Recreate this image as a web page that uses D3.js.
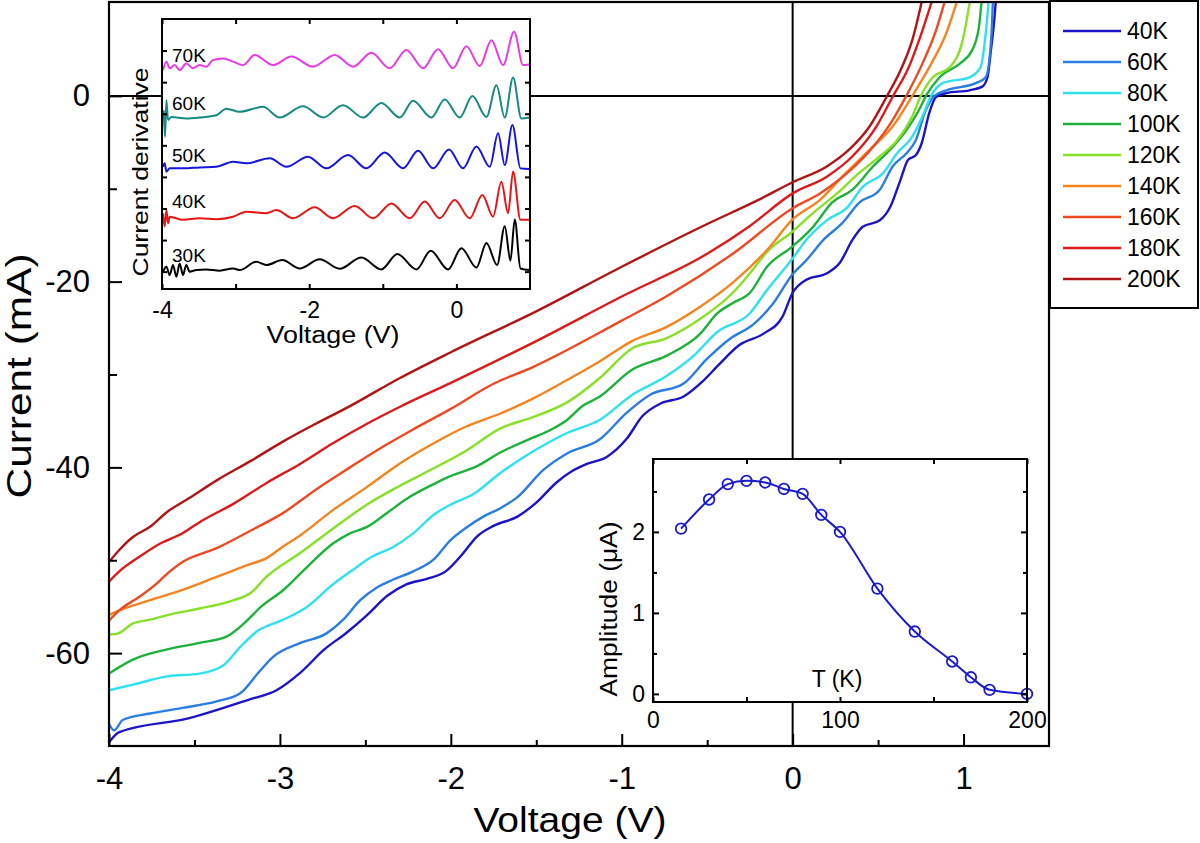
<!DOCTYPE html>
<html><head><meta charset="utf-8">
<script src="https://cdn.jsdelivr.net/npm/d3@7"></script>
<style>
body{margin:0;background:#fff}
svg{display:block}
text{font-family:"Liberation Sans",Arial,Helvetica,sans-serif;fill:#000}
</style>
</head><body>
<svg id="chart" width="1200" height="843"></svg>
<script>
// ---------------- DATA ----------------
const seriesNames = ["40K","60K","80K","100K","120K","140K","160K","180K","200K"];
const seriesColors = ["#1c14c8","#2a7de1","#2ee0f0","#1db33a","#88e028","#f5841f","#ee4a22","#dd1a1a","#b01515"];

// I-V curves: [Voltage (V), Current (mA)]
const iv40K = [[-4.0,-69.6],[-3.94,-68.5],[-3.53,-67.0],[-3.18,-65.0],[-3.02,-64.0],[-2.88,-62.1],[-2.74,-59.6],[-2.61,-57.8],[-2.49,-55.9],[-2.37,-53.8],[-2.26,-52.6],[-2.14,-52.0],[-2.03,-51.2],[-1.93,-49.3],[-1.85,-47.5],[-1.75,-46.3],[-1.61,-45.3],[-1.50,-43.8],[-1.38,-41.6],[-1.29,-40.4],[-1.20,-39.6],[-1.09,-38.9],[-0.97,-36.9],[-0.88,-34.5],[-0.77,-33.1],[-0.64,-32.4],[-0.53,-30.8],[-0.43,-28.9],[-0.31,-26.8],[-0.17,-25.6],[-0.06,-23.8],[0.0,-21.2],[0.08,-19.8],[0.20,-19.1],[0.275,-18.0],[0.35,-15.5],[0.41,-14.1],[0.51,-13.4],[0.57,-12.0],[0.63,-9.1],[0.675,-6.9],[0.72,-6.4],[0.755,-5.1],[0.80,-1.8],[0.84,-0.1],[0.90,0.3],[1.035,0.6],[1.11,1.0],[1.14,2.0],[1.16,4.9],[1.18,8.2],[1.19,10.5]];
const iv60K = [[-4.0,-67.6],[-3.97,-68.3],[-3.92,-67.2],[-3.76,-66.5],[-3.57,-65.9],[-3.37,-65.2],[-3.23,-64.3],[-3.13,-62.2],[-3.04,-60.4],[-2.88,-58.9],[-2.73,-57.9],[-2.63,-56.4],[-2.53,-54.3],[-2.43,-52.9],[-2.34,-52.1],[-2.22,-51.2],[-2.10,-49.9],[-2.0,-47.8],[-1.91,-46.5],[-1.81,-45.3],[-1.71,-44.4],[-1.61,-43.2],[-1.46,-40.3],[-1.32,-38.5],[-1.13,-37.0],[-0.97,-34.1],[-0.836,-32.2],[-0.64,-31.0],[-0.50,-28.3],[-0.37,-26.2],[-0.23,-24.6],[-0.12,-22.5],[0.0,-19.2],[0.08,-17.7],[0.18,-15.5],[0.29,-13.7],[0.39,-11.5],[0.51,-10.1],[0.585,-7.6],[0.665,-6.2],[0.72,-4.8],[0.78,-1.5],[0.83,0.0],[0.90,0.6],[1.075,1.4],[1.13,2.0],[1.164,6.8],[1.172,10.5]];
const iv80K = [[-4.0,-64.0],[-3.86,-63.4],[-3.66,-62.5],[-3.47,-62.2],[-3.33,-61.3],[-3.23,-59.3],[-3.13,-57.6],[-2.98,-56.4],[-2.84,-55.0],[-2.69,-52.6],[-2.57,-51.0],[-2.46,-49.6],[-2.34,-48.6],[-2.22,-47.1],[-2.10,-45.1],[-1.99,-43.9],[-1.87,-42.9],[-1.71,-40.6],[-1.52,-38.3],[-1.32,-36.3],[-1.13,-34.9],[-0.94,-32.2],[-0.74,-30.2],[-0.58,-28.0],[-0.44,-25.4],[-0.25,-23.4],[-0.15,-20.9],[0.0,-17.5],[0.08,-15.5],[0.20,-13.4],[0.32,-12.0],[0.41,-9.8],[0.53,-8.3],[0.61,-6.2],[0.70,-4.4],[0.76,-2.2],[0.81,0.0],[0.88,1.4],[1.035,2.0],[1.10,3.1],[1.13,6.8],[1.148,10.5]];
const iv100K = [[-4.0,-62.2],[-3.86,-60.7],[-3.66,-59.6],[-3.47,-58.9],[-3.31,-58.2],[-3.21,-56.8],[-3.11,-55.0],[-2.98,-53.2],[-2.84,-50.7],[-2.69,-48.2],[-2.59,-47.1],[-2.49,-46.4],[-2.38,-45.0],[-2.26,-43.4],[-2.10,-41.8],[-2.01,-41.0],[-1.85,-39.9],[-1.71,-38.4],[-1.52,-36.8],[-1.42,-36.0],[-1.32,-34.9],[-1.23,-33.4],[-1.13,-32.4],[-0.94,-29.5],[-0.74,-28.0],[-0.54,-25.6],[-0.44,-23.4],[-0.35,-22.3],[-0.25,-21.2],[-0.15,-18.4],[0.0,-16.2],[0.12,-14.1],[0.23,-11.5],[0.35,-10.1],[0.47,-7.6],[0.57,-5.8],[0.665,-3.7],[0.74,-1.5],[0.78,0.0],[0.86,2.0],[0.98,3.5],[1.05,4.9],[1.09,7.4],[1.107,10.5]];
const iv120K = [[-4.0,-58.0],[-3.95,-57.9],[-3.86,-56.8],[-3.76,-56.4],[-3.66,-55.9],[-3.47,-55.2],[-3.27,-54.3],[-3.17,-53.5],[-3.08,-51.8],[-2.88,-49.2],[-2.69,-46.6],[-2.49,-44.0],[-2.30,-42.0],[-2.10,-40.1],[-1.91,-38.2],[-1.71,-35.8],[-1.52,-34.6],[-1.32,-33.0],[-1.13,-30.4],[-0.94,-27.2],[-0.74,-26.1],[-0.54,-24.0],[-0.35,-21.2],[-0.25,-19.1],[-0.15,-16.8],[0.0,-14.6],[0.12,-12.6],[0.26,-10.5],[0.39,-8.3],[0.51,-6.5],[0.61,-4.8],[0.70,-2.2],[0.75,0.0],[0.82,2.0],[0.92,3.1],[0.995,6.0],[1.04,10.5]];
const iv140K = [[-4.0,-55.9],[-3.94,-55.4],[-3.76,-54.3],[-3.57,-53.2],[-3.37,-51.8],[-3.17,-50.4],[-3.08,-49.8],[-2.98,-48.5],[-2.88,-47.3],[-2.69,-44.6],[-2.49,-42.1],[-2.30,-39.6],[-2.10,-37.4],[-1.91,-35.6],[-1.71,-34.2],[-1.52,-32.6],[-1.32,-30.6],[-1.13,-28.6],[-0.94,-26.4],[-0.74,-24.9],[-0.55,-22.8],[-0.35,-20.1],[-0.15,-16.6],[0.0,-13.3],[0.16,-11.2],[0.29,-8.7],[0.45,-5.8],[0.585,-3.3],[0.70,0.0],[0.80,3.1],[0.90,6.8],[0.967,10.5]];
const iv160K = [[-4.0,-56.5],[-3.94,-55.4],[-3.82,-53.9],[-3.72,-52.5],[-3.68,-51.8],[-3.57,-50.2],[-3.37,-48.7],[-3.17,-46.8],[-2.98,-44.9],[-2.79,-42.4],[-2.59,-40.0],[-2.40,-37.8],[-2.21,-35.8],[-2.0,-33.7],[-1.75,-31.0],[-1.52,-29.2],[-1.0,-24.2],[-0.74,-21.6],[-0.35,-17.0],[0.0,-12.1],[0.16,-10.5],[0.32,-8.3],[0.47,-5.5],[0.585,-2.6],[0.665,0.0],[0.76,3.5],[0.84,7.1],[0.895,10.5]];
const iv180K = [[-4.0,-52.3],[-3.94,-51.2],[-3.82,-49.6],[-3.70,-48.2],[-3.57,-47.1],[-3.47,-45.9],[-3.27,-43.9],[-3.08,-41.7],[-2.88,-39.6],[-2.69,-37.4],[-2.49,-35.3],[-2.30,-33.5],[-2.0,-30.9],[-1.5,-26.4],[-1.0,-21.6],[-0.5,-17.0],[-0.25,-14.0],[0.0,-10.5],[0.2,-8.7],[0.35,-6.5],[0.49,-3.3],[0.585,-0.1],[0.68,3.1],[0.74,6.0],[0.82,10.5]];
const iv200K = [[-4.0,-50.2],[-3.94,-48.9],[-3.86,-47.5],[-3.76,-46.4],[-3.66,-44.8],[-3.53,-43.3],[-3.37,-41.4],[-3.17,-39.3],[-2.98,-37.2],[-2.79,-35.3],[-2.59,-33.4],[-2.30,-30.4],[-2.0,-27.6],[-1.5,-23.2],[-1.0,-18.4],[-0.5,-13.8],[-0.2,-11.2],[0.0,-9.3],[0.2,-7.6],[0.33,-5.8],[0.45,-3.3],[0.55,-0.1],[0.64,3.1],[0.70,6.0],[0.76,10.5]];
const ivCurves = [iv40K, iv60K, iv80K, iv100K, iv120K, iv140K, iv160K, iv180K, iv200K];

// Inset 1: current derivative (a.u.), [Voltage, height above own baseline]
const derivNames = ["30K","40K","50K","60K","70K"];
const derivColors = ["#000000","#e81515","#1515e0","#178a84","#e83ae8"];
const derivOffsets = [0.05, 1.69, 3.27, 4.88, 6.51];
const d30K = [[-3.986,-0.05],[-3.94,0.105],[-3.896,-0.16],[-3.85,0.16],[-3.805,-0.21],[-3.76,0.21],[-3.715,-0.16],[-3.67,0.16],[-3.624,-0.05],[-3.533,0],[-3.40,0.02],[-3.216,-0.02],[-3.035,0.05],[-2.945,0],[-2.718,0.26],[-2.582,0.16],[-2.365,0.32],[-2.129,0.05],[-1.857,0.34],[-1.586,0.04],[-1.291,0.40],[-1.019,0.02],[-0.802,0.51],[-0.544,0.02],[-0.349,0.61],[-0.113,0.02],[0.068,0.69],[0.272,0.08],[0.408,0.86],[0.553,0.16],[0.657,1.39],[0.734,0.30],[0.793,1.60],[0.87,0.05],[0.997,0.0]];
const d40K = [[-3.986,0.16],[-3.964,-0.26],[-3.94,0.26],[-3.918,-0.16],[-3.896,0.05],[-3.715,-0.05],[-3.488,0],[-3.262,-0.03],[-3.035,0.05],[-2.854,0.21],[-2.582,0.16],[-2.446,0.26],[-2.22,0],[-1.925,0.35],[-1.676,0],[-1.382,0.39],[-1.132,0],[-0.883,0.47],[-0.634,0],[-0.43,0.53],[-0.227,0],[-0.023,0.58],[0.181,0],[0.353,0.74],[0.498,0.05],[0.611,1.16],[0.702,0.16],[0.77,1.48],[0.87,-0.05],[0.997,-0.05]];
const d50K = [[-3.986,0.05],[-3.964,0.16],[-3.94,-0.105],[-3.896,0],[-3.715,0],[-3.488,0.03],[-3.262,0.05],[-3.035,0.21],[-2.854,0.16],[-2.537,0.32],[-2.31,0.05],[-2.016,0.37],[-1.767,0],[-1.472,0.42],[-1.223,0],[-0.974,0.50],[-0.725,0],[-0.521,0.56],[-0.317,0],[-0.1,0.60],[0.09,0],[0.272,0.69],[0.453,0.05],[0.566,1.11],[0.657,0.105],[0.761,1.37],[0.87,0],[0.997,-0.02]];
const d60K = [[-3.977,0.23],[-3.959,-0.61],[-3.94,0.55],[-3.918,-0.08],[-3.873,0.02],[-3.67,-0.03],[-3.488,0],[-3.262,0.07],[-3.126,0.28],[-2.945,0.18],[-2.627,0.34],[-2.401,0],[-2.084,0.36],[-1.812,0],[-1.54,0.39],[-1.268,0],[-1.019,0.46],[-0.77,0],[-0.589,0.53],[-0.34,0],[-0.159,0.57],[0.045,0],[0.217,0.68],[0.408,0.02],[0.544,1.02],[0.657,0],[0.77,1.27],[0.883,-0.03],[0.997,0]];
const d70K = [[-3.986,-0.13],[-3.94,0.14],[-3.896,-0.07],[-3.828,0.03],[-3.76,-0.13],[-3.67,0.08],[-3.579,-0.07],[-3.488,0.03],[-3.398,-0.02],[-3.307,0.19],[-3.171,0.24],[-3.035,0.14],[-2.899,0.03],[-2.741,0.35],[-2.492,0.03],[-2.242,0.30],[-1.948,-0.02],[-1.653,0.35],[-1.404,-0.02],[-1.155,0.42],[-0.906,-0.07],[-0.68,0.51],[-0.453,-0.07],[-0.249,0.53],[-0.045,-0.07],[0.136,0.63],[0.317,0.0],[0.476,0.82],[0.634,0.03],[0.784,1.09],[0.906,0.03],[0.997,0.06]];
const derivCurves = [d30K, d40K, d50K, d60K, d70K];

// Inset 2: amplitude vs temperature
const ampT = [15, 30, 40, 50, 60, 70, 80, 90, 100, 120, 140, 160, 170, 180, 200];
const ampVal = [2.04, 2.40, 2.59, 2.63, 2.61, 2.53, 2.47, 2.21, 2.00, 1.30, 0.77, 0.40, 0.205, 0.05, 0.0];

// Tick values
const mainXMajor = [-4, -3, -2, -1, 0, 1];
const mainXMinor = [-3.5, -2.5, -1.5, -0.5, 0.5];
const mainYMajor = [-60, -40, -20, 0];
const mainYMinor = [-50, -30, -10];
const in1XTicks = [-4, -3, -2, -1, 0];
const in1XLabels = [-4, -2, 0];
const in1YTicks = [0, 1, 2, 3, 4, 5, 6, 7];
const in2XMajor = [0, 100, 200];
const in2XMinor = [50, 150];
const in2YMajor = [0, 1, 2];
const in2YMinor = [0.5, 1.5, 2.5];

// ---------------- DRAW ----------------
const svg = d3.select("#chart");
svg.append("rect").attr("width",1200).attr("height",843).attr("fill","#fff");
const FONT = '"Liberation Sans",Arial,Helvetica,sans-serif';

const x = d3.scaleLinear().domain([-4, 1.5]).range([109, 1049]);
const y = d3.scaleLinear().domain([-70, 10]).range([746, 3]);

svg.append("clipPath").attr("id","mainClip").append("rect")
  .attr("x",109).attr("y",3).attr("width",940).attr("height",743);

svg.append("line").attr("x1",x(0)).attr("x2",x(0)).attr("y1",y(10)).attr("y2",y(-70))
  .attr("stroke","#000").attr("stroke-width",2);
svg.append("line").attr("x1",x(-4)).attr("x2",x(1.5)).attr("y1",y(0)).attr("y2",y(0))
  .attr("stroke","#000").attr("stroke-width",2);

const ivLine = d3.line().x(d=>x(d[0])).y(d=>y(d[1])).curve(d3.curveMonotoneX);
const gCurves = svg.append("g").attr("clip-path","url(#mainClip)");
ivCurves.forEach((c,i)=>{
  gCurves.append("path").attr("d",ivLine(c)).attr("fill","none")
    .attr("stroke",seriesColors[i]).attr("stroke-width",2.4).attr("stroke-linejoin","round");
});

function styleAxis(g){
  g.select(".domain").remove();
  g.selectAll(".tick line").attr("stroke","#000").attr("stroke-width",2);
}
svg.append("g").attr("transform",`translate(0,${y(-70)})`)
  .call(d3.axisBottom(x).tickValues(mainXMajor).tickSize(-12).tickPadding(21).tickFormat(d=>String(d)))
  .call(styleAxis)
  .call(g=>g.selectAll("text").attr("font-size",31).attr("font-family",FONT));
svg.append("g").attr("transform",`translate(0,${y(-70)})`)
  .call(d3.axisBottom(x).tickValues(mainXMinor).tickSize(-6).tickFormat(""))
  .call(styleAxis);
svg.append("g").attr("transform",`translate(${x(-4)},0)`)
  .call(d3.axisLeft(y).tickValues(mainYMajor).tickSize(-13).tickPadding(19).tickFormat(d=>String(d)))
  .call(styleAxis)
  .call(g=>g.selectAll("text").attr("font-size",31).attr("font-family",FONT));
svg.append("g").attr("transform",`translate(${x(-4)},0)`)
  .call(d3.axisLeft(y).tickValues(mainYMinor).tickSize(-8).tickFormat(""))
  .call(styleAxis);

svg.append("rect").attr("x",109).attr("y",2).attr("width",940).attr("height",744)
  .attr("fill","none").attr("stroke","#000").attr("stroke-width",2.2);

svg.append("text").attr("x",570).attr("y",832).attr("text-anchor","middle")
  .attr("font-size",35).attr("textLength",193).attr("lengthAdjust","spacingAndGlyphs").text("Voltage (V)");
svg.append("text").attr("transform","translate(31,376) rotate(-90)").attr("text-anchor","middle")
  .attr("font-size",35).attr("textLength",245).attr("lengthAdjust","spacingAndGlyphs").text("Current (mA)");

// ---------------- Legend ----------------
const leg = svg.append("g");
leg.append("rect").attr("x",1050).attr("y",1).attr("width",148).attr("height",307)
  .attr("fill","#fff").attr("stroke","#000").attr("stroke-width",2);
seriesNames.forEach((n,i)=>{
  const yy = 31 + i*31;
  leg.append("line").attr("x1",1063).attr("x2",1121).attr("y1",yy).attr("y2",yy)
    .attr("stroke",seriesColors[i]).attr("stroke-width",2.4);
  leg.append("text").attr("x",1127).attr("y",yy+8).attr("font-size",23).text(n);
});

// ---------------- Inset 1 ----------------
const x1 = d3.scaleLinear().domain([-4, 1]).range([162, 530]);
const y1 = d3.scaleLinear().domain([-0.55, 8.0]).range([289, 19]);
svg.append("rect").attr("x",162).attr("y",19).attr("width",368).attr("height",270)
  .attr("fill","#fff");
svg.append("clipPath").attr("id","in1Clip").append("rect")
  .attr("x",162).attr("y",19).attr("width",368).attr("height",270);
const dLine = (off)=>d3.line().x(d=>x1(d[0])).y(d=>y1(d[1]+off)).curve(d3.curveMonotoneX);
const g1 = svg.append("g").attr("clip-path","url(#in1Clip)");
derivCurves.forEach((c,i)=>{
  g1.append("path").attr("d",dLine(derivOffsets[i])(c)).attr("fill","none")
    .attr("stroke",derivColors[i]).attr("stroke-width",2).attr("stroke-linejoin","round");
});
const derivLabelY = [262, 208, 162, 110, 62];
derivNames.forEach((n,i)=>{
  svg.append("text").attr("x",172).attr("y",derivLabelY[i]).attr("font-size",19).text(n);
});
svg.append("g").attr("transform","translate(0,289)")
  .call(d3.axisBottom(x1).tickValues(in1XTicks).tickSize(-5).tickPadding(13)
    .tickFormat(d=>in1XLabels.includes(d)?String(d):""))
  .call(styleAxis)
  .call(g=>g.selectAll("text").attr("font-size",23).attr("font-family",FONT));
svg.append("g").attr("transform","translate(0,19)")
  .call(d3.axisTop(x1).tickValues(in1XTicks).tickSize(-5).tickFormat(""))
  .call(styleAxis);
svg.append("g").attr("transform","translate(162,0)")
  .call(d3.axisLeft(y1).tickValues(in1YTicks).tickSize(-5).tickFormat(""))
  .call(styleAxis);
svg.append("g").attr("transform","translate(530,0)")
  .call(d3.axisRight(y1).tickValues(in1YTicks).tickSize(-5).tickFormat(""))
  .call(styleAxis);
svg.append("rect").attr("x",162).attr("y",19).attr("width",368).attr("height",270)
  .attr("fill","none").attr("stroke","#000").attr("stroke-width",2);
svg.append("text").attr("x",333).attr("y",343).attr("text-anchor","middle")
  .attr("font-size",23).attr("textLength",133).attr("lengthAdjust","spacingAndGlyphs").text("Voltage (V)");
svg.append("text").attr("transform","translate(148,172) rotate(-90)").attr("text-anchor","middle")
  .attr("font-size",22).attr("textLength",209).attr("lengthAdjust","spacingAndGlyphs").text("Current derivative");

// ---------------- Inset 2 ----------------
const x2 = d3.scaleLinear().domain([0, 200]).range([653, 1027]);
const y2 = d3.scaleLinear().domain([-0.1, 2.9]).range([702, 459]);
svg.append("rect").attr("x",653).attr("y",459).attr("width",374).attr("height",243)
  .attr("fill","#fff");
const ampData = ampT.map((t,i)=>[t, ampVal[i]]);
svg.append("path").attr("d", d3.line().x(d=>x2(d[0])).y(d=>y2(d[1])).curve(d3.curveMonotoneX)(ampData))
  .attr("fill","none").attr("stroke","#1a1ad2").attr("stroke-width",2);
svg.append("g").selectAll("circle").data(ampData).join("circle")
  .attr("cx",d=>x2(d[0])).attr("cy",d=>y2(d[1])).attr("r",5.3)
  .attr("fill","none").attr("stroke","#1a1ad2").attr("stroke-width",1.8);
svg.append("g").attr("transform","translate(0,702)")
  .call(d3.axisBottom(x2).tickValues(in2XMajor).tickSize(-5).tickPadding(10).tickFormat(d=>String(d)))
  .call(styleAxis)
  .call(g=>g.selectAll("text").attr("font-size",23).attr("font-family",FONT));
svg.append("g").attr("transform","translate(0,702)")
  .call(d3.axisBottom(x2).tickValues(in2XMinor).tickSize(-5).tickFormat("")).call(styleAxis);
svg.append("g").attr("transform","translate(0,459)")
  .call(d3.axisTop(x2).tickValues(in2XMajor.concat(in2XMinor)).tickSize(-5).tickFormat("")).call(styleAxis);
svg.append("g").attr("transform","translate(653,0)")
  .call(d3.axisLeft(y2).tickValues(in2YMajor).tickSize(-6).tickPadding(8).tickFormat(d=>String(d)))
  .call(styleAxis)
  .call(g=>g.selectAll("text").attr("font-size",23).attr("font-family",FONT));
svg.append("g").attr("transform","translate(653,0)")
  .call(d3.axisLeft(y2).tickValues(in2YMinor).tickSize(-4).tickFormat("")).call(styleAxis);
svg.append("g").attr("transform","translate(1027,0)")
  .call(d3.axisRight(y2).tickValues(in2YMajor).tickSize(-6).tickFormat("")).call(styleAxis);
svg.append("g").attr("transform","translate(1027,0)")
  .call(d3.axisRight(y2).tickValues(in2YMinor).tickSize(-4).tickFormat("")).call(styleAxis);
svg.append("rect").attr("x",653).attr("y",459).attr("width",374).attr("height",243)
  .attr("fill","none").attr("stroke","#000").attr("stroke-width",2);
svg.append("text").attr("x",837).attr("y",687).attr("text-anchor","middle")
  .attr("font-size",23).text("T (K)");
svg.append("text").attr("transform","translate(617,609) rotate(-90)").attr("text-anchor","middle")
  .attr("font-size",23).attr("textLength",175).attr("lengthAdjust","spacingAndGlyphs").text("Amplitude (μA)");
</script>
</body></html>
